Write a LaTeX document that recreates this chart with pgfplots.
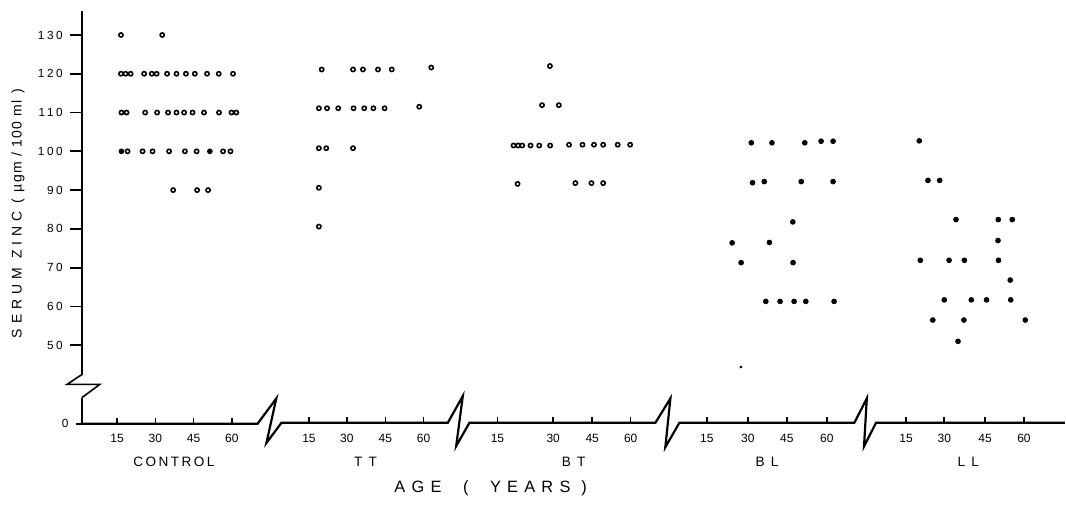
\documentclass[border=0pt]{standalone}
\usepackage{pgfplots}
\pgfplotsset{compat=1.18}
\usepackage{pgfplotstable}
\usepackage{fontspec}
\setmainfont{Liberation Sans}
\newfontfamily\ticksp[LetterSpace=22]{Liberation Sans}
\newfontfamily\grpsp[LetterSpace=18]{Liberation Sans}
\newfontfamily\agesp[LetterSpace=38]{Liberation Sans}
\newfontfamily\ylsp[LetterSpace=36]{Liberation Sans}

% age (years), serum zinc (ugm/100ml); x is shifted by the group offset
\pgfplotstableread{
age zinc
16.5 130
32.7 130
16.5 120
18.3 120
20.3 120
25.6 120
28.6 120
30.5 120
34.6 120
38.3 120
42.0 120
45.5 120
50.3 120
54.9 120
60.5 120
16.7 110
18.7 110
26.0 110
30.7 110
35.0 110
38.3 110
41.3 110
44.6 110
49.1 110
55.0 110
59.9 110
61.8 110
19.1 100
25.0 100
28.9 100
35.4 100
41.6 100
46.2 100
56.6 100
59.5 100
37.0 90
46.4 90
50.7 90
}\control
\pgfplotstableread{
age zinc
16.7 100
51.4 100
}\controlfull
\pgfplotstableread{
age zinc
20.0 121.1
32.3 121.1
36.2 121.1
42.1 121.1
47.5 121.1
63.0 121.6
18.9 111.1
22.1 111.1
26.5 111.1
32.5 111.1
36.7 111.1
40.3 111.1
44.7 111.1
58.3 111.5
18.9 100.8
21.8 100.8
32.3 100.8
18.9 90.6
18.9 80.6
}\tt
\pgfplotstableread{
age zinc
28.7 122.0
25.6 111.9
32.2 111.9
14.4 101.5
16.2 101.5
17.8 101.5
21.1 101.5
24.5 101.5
28.8 101.5
36.2 101.7
41.5 101.7
46.0 101.7
49.6 101.7
55.3 101.7
60.2 101.7
16.0 91.6
38.7 91.8
45.0 91.8
49.6 91.8
}\bt
\pgfplotstableread{
age zinc
31.3 102.2
39.4 102.2
52.3 102.2
58.7 102.6
63.4 102.6
31.8 91.9
36.4 92.2
50.9 92.2
63.4 92.2
47.6 81.8
23.8 76.4
38.4 76.5
27.3 71.3
47.7 71.3
37.0 61.3
42.6 61.3
48.1 61.3
52.7 61.3
63.8 61.3
}\bl
\pgfplotstableread{
age zinc
27.2 44.4
}\blsmall
\pgfplotstableread{
age zinc
19.6 102.7
23.0 92.5
27.6 92.5
34.0 82.4
50.6 82.4
56.1 82.4
50.5 77.0
20.0 71.9
31.3 71.9
37.3 71.9
50.7 71.9
55.3 66.8
29.4 61.7
40.0 61.7
46.0 61.7
55.5 61.7
24.9 56.5
37.1 56.5
61.2 56.5
34.8 51.0
}\ll

\begin{document}
\begin{tikzpicture}
\begin{axis}[
    scale only axis,
    width=533pt, height=253pt,
    xmin=-30.98, xmax=387.06,
    ymin=8.69, ymax=139.02,
    hide axis,
    clip=false,
    open/.style={only marks, mark=*, mark size=1.05pt, mark options={line width=0.8pt, draw=black, fill=white}},
    full/.style={only marks, mark=*, mark size=1.2pt, mark options={draw=black, fill=black}},
]
\path (rel axis cs:0,0) rectangle (rel axis cs:1,1);

% y axis with break
\draw[line width=1.3pt] (axis cs:1.18,136.3) -- (axis cs:1.18,42.45);
\draw[line width=0.8pt] (axis cs:1.18,42.45) -- (axis cs:-4.7,39.9) -- (axis cs:8.2,39.9) -- (axis cs:1.18,36.5);
\draw[line width=1.3pt] (axis cs:1.18,36.5) -- (axis cs:1.18,29.74);

% y ticks
\draw[line width=0.9pt]
  (axis cs:-3.5,130) -- (axis cs:1.18,130)
  (axis cs:-3.5,120) -- (axis cs:1.18,120)
  (axis cs:-3.5,110) -- (axis cs:1.18,110)
  (axis cs:-3.5,100) -- (axis cs:1.18,100)
  (axis cs:-3.5,90) -- (axis cs:1.18,90)
  (axis cs:-3.5,80) -- (axis cs:1.18,80)
  (axis cs:-3.5,70) -- (axis cs:1.18,70)
  (axis cs:-3.5,60) -- (axis cs:1.18,60)
  (axis cs:-3.5,50) -- (axis cs:1.18,50)
  (axis cs:-1.2,29.74) -- (axis cs:1.18,29.74);
\begin{scope}[every node/.style={anchor=east, inner sep=0pt, font=\ticksp\fontsize{5.9pt}{6pt}\selectfont}]
\node at (axis cs:-6.2,130) {130};
\node at (axis cs:-6.2,120) {120};
\node at (axis cs:-6.2,110) {110};
\node at (axis cs:-6.2,100) {100};
\node at (axis cs:-6.2,90) {90};
\node at (axis cs:-6.2,80) {80};
\node at (axis cs:-6.2,70) {70};
\node at (axis cs:-6.2,60) {60};
\node at (axis cs:-6.2,50) {50};
\node at (axis cs:-4.0,29.74) {0};
\end{scope}

% x axis segments and breaks
\draw[line width=1.1pt, line join=miter]
  (axis cs:1.18,29.74) -- (axis cs:70.1,29.74) -- (axis cs:77.5,36.3) -- (axis cs:73.6,24.8) -- (axis cs:79.5,30.0)
  -- (axis cs:144.8,30.0) -- (axis cs:150.7,36.9) -- (axis cs:148.1,24.0) -- (axis cs:153.3,30.0)
  -- (axis cs:226.3,30.0) -- (axis cs:232.2,36.3) -- (axis cs:230.2,23.7) -- (axis cs:235.7,30.0)
  -- (axis cs:304.4,30.0) -- (axis cs:309.3,36.3) -- (axis cs:308.2,23.9) -- (axis cs:312.9,30.0)
  -- (axis cs:387.06,30.0);

% x ticks
\draw[line width=0.8pt]
  (axis cs:15,29.7) -- (axis cs:15,31.3)
  (axis cs:30,29.7) -- (axis cs:30,31.3)
  (axis cs:45,29.7) -- (axis cs:45,31.3)
  (axis cs:60,29.7) -- (axis cs:60,31.3)
  (axis cs:90.3,30) -- (axis cs:90.3,31.5)
  (axis cs:105.2,30) -- (axis cs:105.2,31.5)
  (axis cs:120.3,30) -- (axis cs:120.3,31.5)
  (axis cs:135.3,30) -- (axis cs:135.3,31.5)
  (axis cs:164.3,30) -- (axis cs:164.3,31.5)
  (axis cs:186.2,30) -- (axis cs:186.2,31.5)
  (axis cs:201.5,30) -- (axis cs:201.5,31.5)
  (axis cs:216.6,30) -- (axis cs:216.6,31.5)
  (axis cs:246.5,30) -- (axis cs:246.5,31.5)
  (axis cs:262.6,30) -- (axis cs:262.6,31.5)
  (axis cs:277.9,30) -- (axis cs:277.9,31.5)
  (axis cs:293.6,30) -- (axis cs:293.6,31.5)
  (axis cs:324.7,30) -- (axis cs:324.7,31.5)
  (axis cs:339.7,30) -- (axis cs:339.7,31.5)
  (axis cs:355.7,30) -- (axis cs:355.7,31.5)
  (axis cs:371.0,30) -- (axis cs:371.0,31.5);
\begin{scope}[every node/.style={inner sep=0pt, font=\fontsize{6pt}{6pt}\selectfont}]
\node at (axis cs:15,25.9) {15};
\node at (axis cs:30,25.9) {30};
\node at (axis cs:45,25.9) {45};
\node at (axis cs:60,25.9) {60};
\node at (axis cs:90.3,25.9) {15};
\node at (axis cs:105.2,25.9) {30};
\node at (axis cs:120.3,25.9) {45};
\node at (axis cs:135.3,25.9) {60};
\node at (axis cs:164.3,25.9) {15};
\node at (axis cs:186.2,25.9) {30};
\node at (axis cs:201.5,25.9) {45};
\node at (axis cs:216.6,25.9) {60};
\node at (axis cs:246.5,25.9) {15};
\node at (axis cs:262.6,25.9) {30};
\node at (axis cs:277.9,25.9) {45};
\node at (axis cs:293.6,25.9) {60};
\node at (axis cs:324.7,25.9) {15};
\node at (axis cs:339.7,25.9) {30};
\node at (axis cs:355.7,25.9) {45};
\node at (axis cs:371.0,25.9) {60};
\end{scope}

% group names and axis titles
\begin{scope}[every node/.style={inner sep=0pt, font=\grpsp\fontsize{6.8pt}{7pt}\selectfont}]
\node at (axis cs:37.3,19.85) {CONTROL};
\node at (axis cs:112.5,19.85) {T T};
\node at (axis cs:194.2,19.85) {B T};
\node at (axis cs:270.1,19.85) {B L};
\node at (axis cs:349.1,19.85) {L L};
\end{scope}
\node[inner sep=0pt, font=\agesp\fontsize{8.2pt}{9pt}\selectfont] at (axis cs:161.6,13.2) {AGE \ ( \ YEARS )};
\node[inner sep=0pt, rotate=90, font=\fontsize{7pt}{7pt}\selectfont] at (axis cs:-23.9,83.9)
  {{\ylsp SERUM ZINC} \ ( \,{\addfontfeature{LetterSpace=10}µgm / 100 ml}\, )};

% data
\addplot[open] table[x expr=\thisrow{age}, y=zinc] {\control};
\addplot[full] table[x expr=\thisrow{age}, y=zinc] {\controlfull};
\addplot[open] table[x expr=\thisrow{age}+75.3, y=zinc] {\tt};
\addplot[open] table[x expr=\thisrow{age}+156.2, y=zinc] {\bt};
\addplot[full] table[x expr=\thisrow{age}+232.65, y=zinc] {\bl};
\addplot[only marks, mark=*, mark size=0.5pt] table[x expr=\thisrow{age}+232.65, y=zinc] {\blsmall};
\addplot[full] table[x expr=\thisrow{age}+310.3, y=zinc] {\ll};
\end{axis}
\end{tikzpicture}
\end{document}
